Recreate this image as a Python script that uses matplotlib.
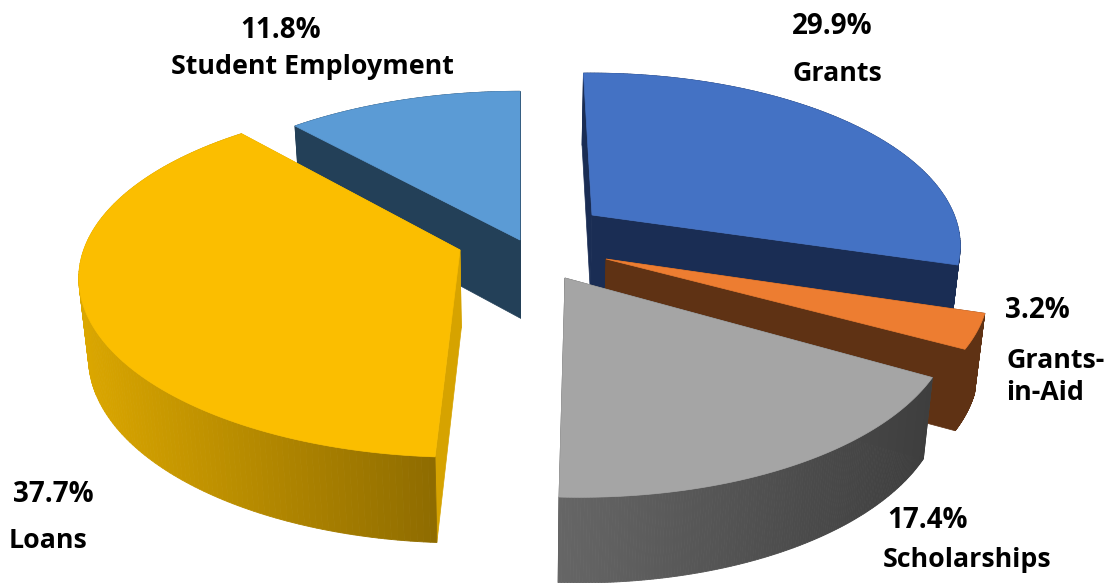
import numpy as np
import matplotlib
matplotlib.use("Agg")
import matplotlib.pyplot as plt
from matplotlib.colors import to_rgb

# Datos del grafico
categorias = ["Grants", "Grants-\nin-Aid", "Scholarships", "Loans", "Student Employment"]
porcentajes = [29.9, 3.2, 17.4, 37.7, 11.8]

# Geometria de cada porcion: vertice, radios y correcciones de la perspectiva
vertices = [(592, 215), (606, 259), (565, 278), (460, 250), (520, 240)]
radios_x = [361, 377, 382, 374, 375]
radios_y = [166, 170, 182, 172, 174]
corte_x = [-10, 0, -7, 9, 0]
corte_y = [-3, 0, 3, 6, 0]
persp = 0.17

colores_top = ["#4472C4", "#ED7D31", "#A5A5A5", "#FBBE00", "#5B9BD5"]
colores_corte = ["#1A2D54", "#5F3214", "#4A4A4A", "#D6A300", "#234058"]
colores_izq = ["#1A2D54", "#5F3214", "#666666", "#DBA700", "#234058"]
colores_der = ["#1A2D54", "#5F3214", "#3E3E3E", "#8F6C00", "#234058"]

# Posicion de las etiquetas (x, y del porcentaje, x, y del nombre)
pos_etiquetas = [(832, 27, 837, 74), (1037, 311, 1006, 377), (928, 520, 967, 560),
                 (53, 494, 48, 541), (281, 30, 312, 67)]


def proyectar(i, t):
    w = 1 + persp * np.cos(t)
    x = vertices[i][0] + (radios_x[i] * np.sin(t) + corte_x[i] * np.cos(t)) / w
    y = vertices[i][1] + (-radios_y[i] * np.cos(t) + corte_y[i] * np.sin(t)) / w
    return x, y


def bajar(x, y, w):
    # Extruye hacia abajo, con fuga hacia el centro
    return x + (520 - x) * 0.022, y + 78 / np.sqrt(w)


fig = plt.figure(figsize=(11.07, 5.83), dpi=100)
ax = fig.add_axes([0, 0, 1, 1])
ax.set_xlim(0, 1107)
ax.set_ylim(583, 0)
ax.axis("off")

bordes = np.cumsum([0] + porcentajes) / 100 * 2 * np.pi

# Dibujamos de atras hacia adelante
for i in [4, 0, 1, 2, 3]:
    t = np.linspace(bordes[i], bordes[i + 1], 160)
    x, y = proyectar(i, t)
    w = 1 + persp * np.cos(t)
    xb, yb = bajar(x, y, w)
    ax0, ay0 = vertices[i]
    bx0, by0 = bajar(ax0, ay0, 1)

    # Caras del corte
    for k in [0, -1]:
        ax.fill([ax0, x[k], xb[k], bx0], [ay0, y[k], yb[k], by0],
                color=colores_corte[i], lw=0.5)

    # Pared exterior con degrade horizontal
    c1 = np.array(to_rgb(colores_izq[i]))
    c2 = np.array(to_rgb(colores_der[i]))
    xmin, xmax = x.min(), x.max()
    for k in range(len(t) - 1):
        f = (x[k] - xmin) / (xmax - xmin)
        c = c1 + (c2 - c1) * f
        ax.fill([x[k], x[k + 1], xb[k + 1], xb[k]], [y[k], y[k + 1], yb[k + 1], yb[k]],
                color=c, lw=0.6)

    # Cara superior
    ax.fill(np.r_[ax0, x], np.r_[ay0, y], color=colores_top[i], lw=0.5)

# Etiquetas
for i in range(5):
    xp, yp, xn, yn = pos_etiquetas[i]
    ax.text(xp, yp, f"{porcentajes[i]}%", ha="center", va="center", fontsize=20,
            fontweight="bold", family="Open Sans", color="black")
    if i == 1:
        ax.text(xn, yn, categorias[i], ha="left", va="center", fontsize=19.3, fontweight="bold",
                family="Open Sans", color="black", linespacing=1.35)
    else:
        ax.text(xn, yn, categorias[i], ha="center", va="center", fontsize=19.3, fontweight="bold",
                family="Open Sans", color="black")

fig.savefig("out.png", dpi=100)
